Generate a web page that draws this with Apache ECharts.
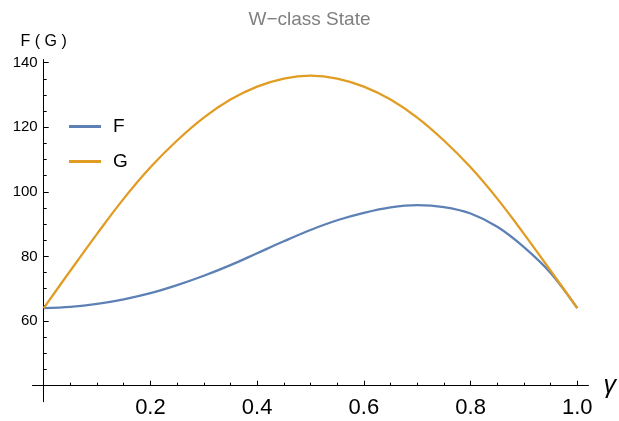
<!DOCTYPE html>
<html>
<head>
<meta charset="utf-8">
<script src="https://cdn.jsdelivr.net/npm/echarts@6/dist/echarts.min.js"></script>
<style>
html,body{margin:0;padding:0;background:#fff;}
#chart{width:619px;height:421px;}
</style>
</head>
<body>
<div id="chart"></div>
<script>
var titleText = 'W\u2212class State';
var seriesNames = ['F', 'G'];
var xs = [0, 0.05, 0.1, 0.15, 0.2, 0.25, 0.3, 0.35, 0.4, 0.45, 0.5, 0.55, 0.6, 0.65, 0.7, 0.75, 0.8, 0.85, 0.9, 0.95, 1];
var fValues = [64, 64.4, 65.3, 66.7, 68.6, 71.1, 74.0, 77.3, 81.0, 84.7, 88.2, 91.2, 93.5, 95.2, 95.9, 95.3, 93.3, 89.2, 82.9, 74.9, 64];
var gValues = [64, 75.6, 87.0, 97.9, 107.6, 115.9, 123.0, 128.6, 132.6, 135.1, 136.0, 135.1, 132.6, 128.6, 123.0, 115.9, 107.6, 97.9, 87.0, 75.6, 64];
var xMajorTicks = [0.2, 0.4, 0.6, 0.8, 1.0];
var xMinorTicks = [0.05, 0.1, 0.15, 0.25, 0.3, 0.35, 0.45, 0.5, 0.55, 0.65, 0.7, 0.75, 0.85, 0.9, 0.95];
var yMajorTicks = [60, 80, 100, 120, 140];
var yMinorTicks = [45, 50, 55, 65, 70, 75, 85, 90, 95, 105, 110, 115, 125, 130, 135];

var FONT = "'Liberation Sans', Arial, sans-serif";
var xMin = -0.021, xMax = 1.021, yMin = 35, yMax = 141;
var colors = ['#5E81B5', '#E19C24'];

function pairs(vals) { return xs.map(function (x, i) { return [x, vals[i]]; }); }

var chart = echarts.init(document.getElementById('chart'), null, {renderer: 'canvas'});
chart.setOption({
  animation: false,
  backgroundColor: '#fff',
  title: {
    text: titleText, left: 'center', top: 5,
    textStyle: {fontFamily: FONT, fontSize: 19, fontWeight: 'normal', color: '#808080'}
  },
  legend: {
    orient: 'vertical', left: 64, top: 112, itemWidth: 32, itemHeight: 3, itemGap: 16,
    icon: 'rect',
    data: seriesNames,
    textStyle: {fontFamily: FONT, fontSize: 19, color: '#000', padding: [0, 0, 0, 7]}
  },
  grid: {left: 32.5, right: 29, top: 59.5, bottom: 19.3, containLabel: false},
  xAxis: [{
    type: 'value', min: xMin, max: xMax, position: 'bottom', offset: -16,
    name: '\u03b3', nameLocation: 'end', nameGap: 15,
    nameTextStyle: {fontFamily: FONT, fontSize: 25, fontStyle: 'italic', color: '#000'},
    axisLine: {onZero: false, lineStyle: {color: '#000', width: 1}},
    axisTick: {show: true, inside: true, length: 5, customValues: xMajorTicks, lineStyle: {color: '#000', width: 1}},
    axisLabel: {show: true, customValues: xMajorTicks, margin: 11, fontFamily: FONT, fontSize: 22, color: '#000',
      formatter: function (v) { return v.toFixed(1); }},
    splitLine: {show: false}
  }, {
    type: 'value', min: xMin, max: xMax, position: 'bottom', offset: -16,
    axisLine: {show: false, onZero: false},
    axisTick: {show: true, inside: true, length: 3, customValues: xMinorTicks, lineStyle: {color: '#000', width: 1}},
    axisLabel: {show: false},
    splitLine: {show: false}
  }],
  yAxis: [{
    type: 'value', min: yMin, max: yMax, position: 'left', offset: -11.2,
    name: 'F ( G )', nameLocation: 'end', nameGap: 10,
    nameTextStyle: {fontFamily: FONT, fontSize: 16, color: '#000', align: 'center'},
    axisLine: {onZero: false, lineStyle: {color: '#000', width: 1}},
    axisTick: {show: true, inside: true, length: 5, customValues: yMajorTicks, lineStyle: {color: '#000', width: 1}},
    axisLabel: {show: true, customValues: yMajorTicks, margin: 6, fontFamily: FONT, fontSize: 15, color: '#000'},
    splitLine: {show: false}
  }, {
    type: 'value', min: yMin, max: yMax, position: 'left', offset: -11.2,
    axisLine: {show: false, onZero: false},
    axisTick: {show: true, inside: true, length: 3, customValues: yMinorTicks, lineStyle: {color: '#000', width: 1}},
    axisLabel: {show: false},
    splitLine: {show: false}
  }],
  series: [{
    name: seriesNames[0], type: 'line', xAxisIndex: 0, yAxisIndex: 0,
    data: pairs(fValues), smooth: 0.35, symbol: 'none',
    lineStyle: {color: colors[0], width: 2.3}, itemStyle: {color: colors[0]}
  }, {
    name: seriesNames[1], type: 'line', xAxisIndex: 0, yAxisIndex: 0,
    data: pairs(gValues), smooth: 0.35, symbol: 'none',
    lineStyle: {color: colors[1], width: 2.3}, itemStyle: {color: colors[1]}
  }]
});
</script>
</body>
</html>
